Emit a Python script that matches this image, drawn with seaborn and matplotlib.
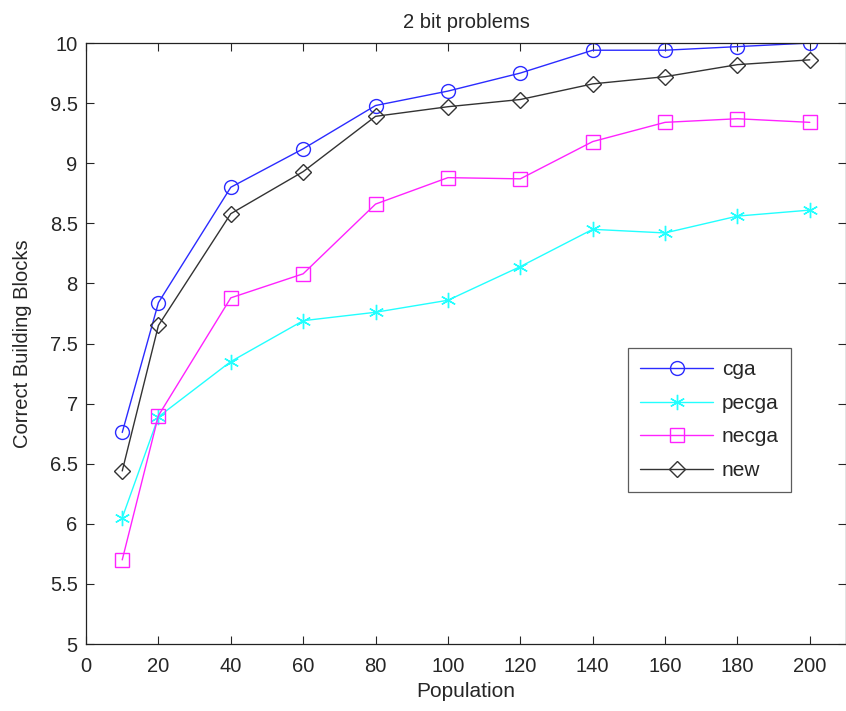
import numpy as np
import pandas as pd
import seaborn as sns
import matplotlib
matplotlib.use("Agg")
import matplotlib.pyplot as plt

population = [10, 20, 40, 60, 80, 100, 120, 140, 160, 180, 200]
cga = [6.76, 7.84, 8.80, 9.12, 9.48, 9.60, 9.75, 9.94, 9.94, 9.97, 10.0]
pecga = [6.05, 6.89, 7.35, 7.69, 7.76, 7.86, 8.14, 8.45, 8.42, 8.56, 8.61]
necga = [5.70, 6.90, 7.88, 8.08, 8.66, 8.88, 8.87, 9.18, 9.34, 9.37, 9.34]
new = [6.44, 7.65, 8.58, 8.93, 9.39, 9.47, 9.53, 9.66, 9.72, 9.82, 9.86]

series_names = ["cga", "pecga", "necga", "new"]
colors = ["#2b2bff", "#22ffff", "#ff22ff", "#333333"]
markers = ["o", (6, 2, 0), "s", "D"]
msizes = [10, 11, 10, 8]

sns.set_style("ticks")
plt.rcParams["font.family"] = ["Liberation Sans", "DejaVu Sans"]
plt.rcParams["xtick.direction"] = "in"
plt.rcParams["ytick.direction"] = "in"

df = pd.DataFrame({"Population": population, "cga": cga, "pecga": pecga,
                   "necga": necga, "new": new})

fig = plt.figure(figsize=(8.46, 7.11), dpi=100)
ax = fig.add_axes([0.1017, 0.0942, 0.8983, 0.8453])

for name, c, m, ms in zip(series_names, colors, markers, msizes):
    sns.lineplot(data=df, x="Population", y=name, ax=ax, color=c, marker=m,
                 markersize=ms, markerfacecolor="none", markeredgecolor=c,
                 markeredgewidth=1.0, linewidth=1.0, label=name)

ax.set_xlim(0, 210)
ax.set_ylim(5, 10)
ax.set_xticks(np.arange(0, 201, 20))
ax.set_yticks(np.arange(5, 10.01, 0.5))
ax.set_yticklabels(["5", "5.5", "6", "6.5", "7", "7.5", "8", "8.5", "9", "9.5", "10"])
ax.tick_params(labelsize=14.5, length=6, width=0.8, top=True, right=True)
ax.tick_params(axis="x", pad=9)
ax.tick_params(axis="y", pad=6)
for s in ax.spines.values():
    s.set_linewidth(0.9)
    s.set_color("#222222")

ax.set_xlabel("Population", fontsize=15, labelpad=5)
ax.set_ylabel("Correct Building Blocks", fontsize=14.5, labelpad=13)
ax.set_title("2 bit problems", fontsize=14.5, pad=11)

leg = ax.legend(loc="upper left", bbox_to_anchor=(0.713, 0.493), fontsize=15,
                frameon=True, fancybox=False, edgecolor="#333333",
                handlelength=3.5, labelspacing=0.7, borderpad=0.6,
                handletextpad=0.4, borderaxespad=0)
leg.get_frame().set_linewidth(0.9)

fig.savefig("out.png", dpi=100)
